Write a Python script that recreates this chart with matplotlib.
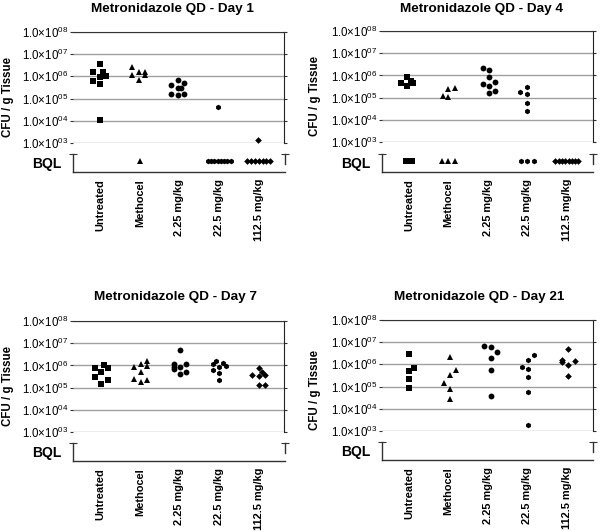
import numpy as np
import matplotlib
matplotlib.use('Agg')
import matplotlib.pyplot as plt
from matplotlib.ticker import NullLocator

plt.rcParams['font.family'] = ['Liberation Sans', 'DejaVu Sans']
plt.rcParams['mathtext.default'] = 'regular'

groups = ['Untreated', 'Methocel', '2.25 mg/kg', '22.5 mg/kg', '112.5 mg/kg']
markers = ['s', '^', 'o', 'h', 'D']
msizes = [4.2, 4.4, 4.2, 4.0, 3.4]

# CFU / g tissue values per group, and horizontal scatter offsets (category units)
day1_cfu = [[3.6e6, 1.5e6, 1.5e6, 1.0e6, 9e5, 6.5e5, 4.6e5, 1.05e4],
            [2.6e6, 1.1e6, 1.5e6, 7e5, 1.5e6, 1.2e6],
            [7e5, 4e5, 5e5, 3e5, 3e5, 1.66e5, 1.5e5, 1.6e5],
            [4.3e4],
            [1.4e3]]
day1_dx = [[0, -0.18, 0.07, 0.15, 0, -0.18, 0, 0],
           [-0.19, -0.19, 0, 0, 0.15, 0.15],
           [-0.03, -0.2, 0.13, -0.03, 0.04, -0.2, -0.03, 0.13],
           [0],
           [0]]
day1_bql = [0, 1, 0, 8, 7]

day4_cfu = [[4.5e5, 8.3e5, 3.2e5, 5.6e5, 4.5e5],
            [1.2e5, 2.4e5, 1.05e5, 2.6e5],
            [2.2e6, 1.8e6, 8.3e5, 4.2e5, 5.3e5, 3.2e5, 1.6e5, 1.9e5],
            [1.7e5, 3e5, 1.5e5, 5.6e4, 2.6e4],
            []]
day4_dx = [[-0.21, -0.06, -0.06, 0.04, 0.1],
           [-0.15, 0, 0, 0.17],
           [-0.13, 0.03, 0.03, -0.13, 0.19, 0.03, 0.03, 0.19],
           [-0.18, 0, 0, 0, 0],
           []]
day4_bql = [2, 3, 0, 3, 8]

day7_cfu = [[7.9e5, 2.9e5, 5.3e5, 1.5e5, 1.05e6, 7.4e5, 2.1e5],
            [8.3e5, 2.4e5, 1.1e6, 5.3e5, 1.7e5, 1.65e6, 9.5e5, 2.2e5],
            [1.15e6, 8.5e5, 7e5, 5e6, 8.3e5, 4.2e5, 1.1e6, 4.8e5],
            [1.65e6, 1.1e6, 8.9e5, 1.25e6, 9.8e5, 6.3e5, 4.5e5, 2.2e5],
            [3.7e5, 7.9e5, 3.4e5, 4.8e5, 3.6e5, 1.25e5, 1.25e5]]
day7_dx = [[-0.13, -0.13, 0.03, 0.03, 0.11, 0.19, 0.19],
           [-0.13, -0.13, 0.03, 0.03, 0.03, 0.19, 0.19, 0.19],
           [-0.13, -0.13, -0.13, 0.03, 0.03, 0.03, 0.19, 0.19],
           [-0.06, -0.14, 0.02, 0.11, 0.19, -0.14, 0.02, 0.02],
           [-0.14, 0.03, 0.03, 0.11, 0.18, 0.03, 0.18]]
day7_bql = [0, 0, 0, 0, 0]

day21_cfu = [[3e6, 5.3e5, 6.9e5, 2.2e5, 9.1e4],
             [2.05e6, 5.6e5, 3.5e5, 1.45e5, 8.1e4, 2.7e4],
             [6.9e6, 6.2e6, 3.7e6, 2e6, 5.8e5, 3.7e4],
             [7.6e5, 1.5e6, 2.6e6, 6.4e5, 2.6e5, 5.8e4, 1.9e3],
             [4.9e6, 1.6e6, 1.35e6, 1.4e6, 9.7e5, 3.1e5]]
day21_dx = [[0, 0, 0.13, 0, 0],
            [0.04, 0.19, 0.04, -0.12, 0.04, 0.04],
            [-0.1, 0.07, 0.23, 0.07, 0.07, 0.07],
            [-0.15, 0.01, 0.17, 0.01, 0.01, 0.01, 0.01],
            [0.03, -0.13, -0.13, 0.2, 0.03, 0.03]]
day21_bql = [0, 0, 0, 0, 0]

titles = ['Metronidazole QD - Day 1', 'Metronidazole QD - Day 4',
          'Metronidazole QD - Day 7', 'Metronidazole QD - Day 21']
ytick_vals = [1e3, 1e4, 1e5, 1e6, 1e7, 1e8]
ytick_labels = [r'1.0×10$^{03}$', r'1.0×10$^{04}$', r'1.0×10$^{05}$',
                r'1.0×10$^{06}$', r'1.0×10$^{07}$', r'1.0×10$^{08}$']

W, H = 600, 531
fig = plt.figure(figsize=(W / 100, H / 100), dpi=100)


def rect(x0, y0, x1, y1):
    # pixel box (top-left origin) -> figure fraction
    return [x0 / W, 1 - y1 / H, (x1 - x0) / W, (y1 - y0) / H]


# layout: (main box, bql box, title pos, ylabel pos)
layout = [
    ((73, 32, 284, 143), (73, 154, 285, 172), (172, 9), (8, 97)),
    ((382, 31, 593, 142), (382, 154, 593, 172), (481, 9), (315, 96)),
    ((73, 321, 284, 432), (73, 443, 285, 461), (175, 297), (8, 386)),
    ((382, 320, 593, 431), (382, 442, 593, 460), (479, 297), (315, 390)),
]
data = [(day1_cfu, day1_dx, day1_bql), (day4_cfu, day4_dx, day4_bql),
        (day7_cfu, day7_dx, day7_bql), (day21_cfu, day21_dx, day21_bql)]

xlim = (0.316, 5.66)
xpos = np.arange(1, len(groups) + 1)

for (mbox, bbox, tpos, lpos), (cfu, dx, bql), title in zip(layout, data, titles):
    ax = fig.add_axes(rect(*mbox))
    ax.set_yscale('log')
    ax.set_ylim(1e3, 1e8)
    ax.set_xlim(*xlim)
    ax.yaxis.set_minor_locator(NullLocator())
    ax.set_yticks(ytick_vals)
    ax.set_yticklabels(ytick_labels, fontsize=8.3)
    ax.set_xticks([])
    ax.grid(axis='y', color='#a0a0a0', lw=1)
    ax.spines['left'].set_visible(False)
    ax.spines['bottom'].set_visible(False)
    ax.spines['top'].set_color('#333333')
    ax.spines['right'].set_color('#222222')
    ax.tick_params(axis='y', left=True, right=True, direction='out',
                   length=2.5, width=0.8, pad=1, color='#333333')
    for i, (vals, offs) in enumerate(zip(cfu, dx)):
        if vals:
            ax.plot(xpos[i] + np.array(offs), vals, linestyle='none',
                    marker=markers[i], ms=msizes[i], color='black', mew=0,
                    clip_on=False)

    axb = fig.add_axes(rect(*bbox))
    axb.set_xlim(*xlim)
    axb.set_ylim(0, 1)
    axb.spines['top'].set_visible(False)
    axb.spines['right'].set_bounds(0.45, 1)
    for s in ['left', 'right', 'bottom']:
        axb.spines[s].set_color('#333333')
        axb.spines[s].set_linewidth(1)
    axb.set_yticks([1])
    axb.set_yticklabels([])
    axb.tick_params(axis='y', left=True, right=True, direction='inout',
                    length=6, width=0.8, color='#333333')
    axb.set_xticks(xpos)
    axb.set_xticklabels(groups, rotation=90, fontsize=7.9, fontweight='bold')
    axb.tick_params(axis='x', length=0, pad=5)
    for i, n in enumerate(bql):
        if n:
            sp = min(0.165, 0.58 / max(n - 1, 1))
            xs = xpos[i] + (np.arange(n) - (n - 1) / 2) * sp
            axb.plot(xs, np.full(n, 0.63), linestyle='none', marker=markers[i],
                     ms=msizes[i], color='black', mew=0)
    axb.text(-0.057, 0.45, 'BQL', transform=axb.transAxes, ha='right',
             va='center', fontsize=10, fontweight='bold')

    fig.text(tpos[0] / W, 1 - tpos[1] / H, title, ha='center', va='center',
             fontsize=9.7, fontweight='bold')
    fig.text(lpos[0] / W, 1 - lpos[1] / H, 'CFU / g Tissue', rotation=90,
             ha='center', va='center', fontsize=8.3, fontweight='bold')

fig.savefig('out.png', dpi=100)
